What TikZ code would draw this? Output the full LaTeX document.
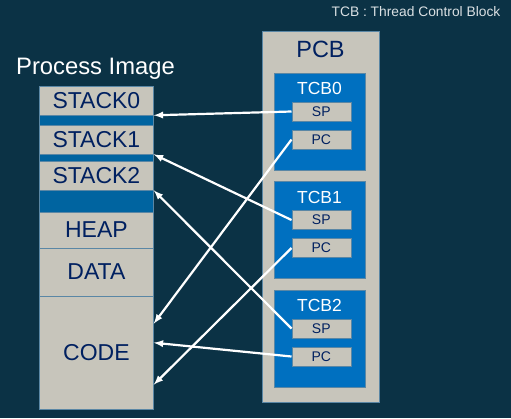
\documentclass[tikz,border=0pt]{standalone}
\usepackage{fontspec}
\setmainfont{Liberation Sans}
\usetikzlibrary{calc}
\definecolor{bgteal}{RGB}{11,50,69}
\definecolor{cellgray}{RGB}{199,197,187}
\definecolor{cellframe}{RGB}{90,135,165}
\definecolor{bandblue}{RGB}{0,100,160}
\definecolor{tcbblue}{RGB}{0,112,192}
\definecolor{navy}{RGB}{0,32,96}
\begin{document}
\begin{tikzpicture}[
    x=1pt, y=-1pt,
    cell/.style={rectangle,draw=cellframe,line width=0.6pt,fill=cellgray,minimum width=114pt,inner sep=0pt,text=navy,font=\fontsize{23}{25}\selectfont},
    band/.style={rectangle,draw=cellframe,line width=0.6pt,fill=bandblue,minimum width=114pt,inner sep=0pt},
    tcb/.style={rectangle,draw=cellframe,line width=0.6pt,fill=tcbblue,minimum width=91pt,minimum height=97pt,inner sep=0pt},
    reg/.style={rectangle,draw=cellframe,line width=0.6pt,fill=cellgray,minimum width=59pt,minimum height=19pt,inner sep=0pt,text=navy,font=\fontsize{14}{16}\selectfont},
    ptr/.style={->,draw=white,line width=2.2pt},
    >=latex
]
    % Background
    \fill[bgteal] (0,0) rectangle (511,418);
    \node[text=white!85!bgteal,font=\fontsize{13.8}{15}\selectfont] (legend) at (416,12) {TCB : Thread Control Block};

    % Process image
    \node[text=white,font=\fontsize{23.8}{26}\selectfont] (imagelabel) at (95.5,68.5) {Process Image};
    \node[band,minimum height=10pt] (band0) at (96.4,120) {};
    \node[band,minimum height=7pt] (band1) at (96.4,157.5) {};
    \node[band,minimum height=22pt] (band2) at (96.4,201) {};
    \node[cell,minimum height=29pt] (stack0) at (96.4,100.5) {STACK0};
    \node[cell,minimum height=29pt] (stack1) at (96.4,139.5) {STACK1};
    \node[cell,minimum height=29pt] (stack2) at (96.4,175.5) {STACK2};
    \node[cell,minimum height=36pt] (heap) at (96.4,230) {HEAP};
    \node[cell,minimum height=48pt] (data) at (96.4,272) {DATA};
    \node[cell,minimum height=113pt] (code) at (96.4,352.5) {CODE};

    % PCB with its thread control blocks
    \node[rectangle,draw=cellframe,line width=0.6pt,fill=cellgray,minimum width=117pt,minimum height=371pt] (pcb) at (320.5,216.5) {};
    \node[text=navy,font=\fontsize{23.5}{25}\selectfont] (pcblabel) at (320.5,49) {PCB};
    \foreach \i in {0,1,2} {
        \pgfmathsetmacro\tcbtop{73+108.5*\i}
        \node[tcb] (tcb\i) at (319.5,\tcbtop+48.5) {};
        \node[text=white,font=\fontsize{17.5}{19}\selectfont] (tcblabel\i) at (319.5,\tcbtop+15.5) {TCB\i};
        \node[reg] (sp\i) at (321.3,\tcbtop+38.5) {SP};
        \node[reg] (pc\i) at (321.3,\tcbtop+66.5) {PC};
    }

    % Points on the code segment
    \coordinate (code0) at ($(code.north east)+(0,28)$);
    \coordinate (code2) at ($(code.north east)+(0,47)$);
    \coordinate (code1) at ($(code.north east)+(0,89)$);

    % Pointers
    \draw[ptr] (sp0.west) -- (stack0.south east);
    \draw[ptr] (sp1.west) -- (stack1.south east);
    \draw[ptr] (sp2.west) -- (stack2.south east);
    \draw[ptr] (pc0.west) -- (code0);
    \draw[ptr] (pc1.west) -- (code1);
    \draw[ptr] (pc2.west) -- (code2);
\end{tikzpicture}
\end{document}
